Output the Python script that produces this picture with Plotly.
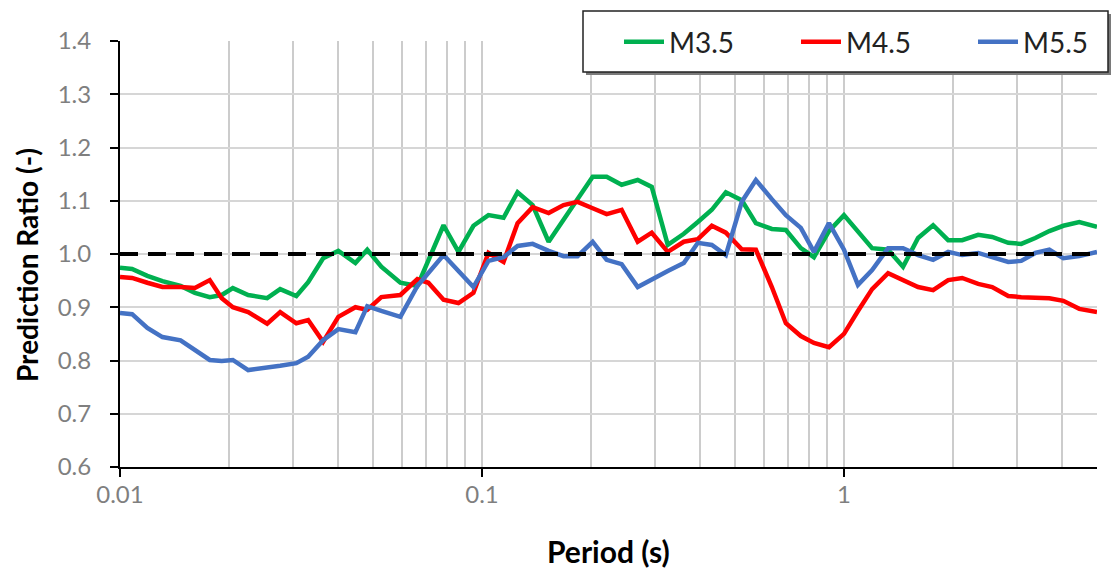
import plotly.graph_objects as go

periods = [0.0100, 0.0108, 0.0119, 0.0131, 0.0147, 0.0161, 0.0177, 0.0191, 0.0205, 0.0226,
           0.0255, 0.0277, 0.0307, 0.0331, 0.0364, 0.0401, 0.0447, 0.0482, 0.0527, 0.0595,
           0.0663, 0.0711, 0.0783, 0.0861, 0.0947, 0.1042, 0.1147, 0.1254, 0.138, 0.1528,
           0.168, 0.1837, 0.2022, 0.221, 0.2431, 0.2693, 0.2944, 0.326, 0.361, 0.3947,
           0.4314, 0.4717, 0.522, 0.571, 0.632, 0.691, 0.760, 0.826, 0.909, 1.0,
           1.093, 1.196, 1.324, 1.456, 1.602, 1.763, 1.940, 2.121, 2.348, 2.567,
           2.843, 3.088, 3.377, 3.692, 4.036, 4.467, 5.0]

m35 = [0.974, 0.972, 0.959, 0.949, 0.940, 0.927, 0.919, 0.923, 0.936, 0.923,
       0.917, 0.934, 0.921, 0.947, 0.992, 1.006, 0.983, 1.008, 0.976, 0.946,
       0.940, 0.989, 1.054, 1.004, 1.053, 1.073, 1.068, 1.116, 1.092, 1.023,
       1.064, 1.103, 1.145, 1.145, 1.130, 1.139, 1.126, 1.017, 1.038, 1.060,
       1.083, 1.116, 1.101, 1.058, 1.047, 1.045, 1.011, 0.994, 1.043, 1.073,
       1.043, 1.011, 1.008, 0.976, 1.030, 1.054, 1.026, 1.026, 1.036, 1.032,
       1.021, 1.019, 1.030, 1.043, 1.053, 1.060, 1.051]

m45 = [0.957, 0.955, 0.946, 0.938, 0.938, 0.936, 0.951, 0.917, 0.900, 0.891,
       0.869, 0.891, 0.870, 0.876, 0.835, 0.882, 0.900, 0.895, 0.919, 0.923,
       0.953, 0.946, 0.914, 0.908, 0.927, 1.002, 0.985, 1.058, 1.088, 1.077,
       1.092, 1.098, 1.086, 1.075, 1.083, 1.023, 1.040, 1.004, 1.023, 1.028,
       1.053, 1.040, 1.009, 1.008, 0.938, 0.870, 0.846, 0.833, 0.825, 0.850,
       0.893, 0.934, 0.964, 0.951, 0.938, 0.932, 0.951, 0.955, 0.944, 0.938,
       0.921, 0.919, 0.919, 0.917, 0.912, 0.897, 0.891]

m55 = [0.889, 0.887, 0.861, 0.844, 0.838, 0.820, 0.801, 0.799, 0.801, 0.782,
       0.786, 0.790, 0.795, 0.807, 0.838, 0.859, 0.853, 0.902, 0.893, 0.882,
       0.940, 0.964, 0.998, 0.968, 0.938, 0.987, 0.994, 1.015, 1.019, 1.006,
       0.996, 0.996, 1.023, 0.989, 0.981, 0.938, 0.953, 0.968, 0.983, 1.021,
       1.017, 0.998, 1.098, 1.139, 1.103, 1.073, 1.049, 1.004, 1.058, 1.008,
       0.942, 0.970, 1.011, 1.011, 0.998, 0.989, 1.004, 0.998, 1.002, 0.994,
       0.985, 0.987, 1.002, 1.008, 0.992, 0.996, 1.004]

ref_x = [0.01, 5.0]
ref_y = [1.0, 1.0]

series_names = ["M3.5", "M4.5", "M5.5"]
series_vals = [m35, m45, m55]
series_colors = ["#00B050", "#FF0000", "#4472C4"]

x_major = [0.01, 0.1, 1]
x_major_text = ["0.01", "0.1", "1"]
x_minor = [0.02, 0.03, 0.04, 0.05, 0.06, 0.07, 0.08, 0.09,
           0.2, 0.3, 0.4, 0.5, 0.6, 0.7, 0.8, 0.9, 2, 3, 4, 5]

FONT = "Lato, Carlito, Calibri, sans-serif"

fig = go.Figure()
for name, vals, col in zip(series_names, series_vals, series_colors):
    fig.add_trace(go.Scatter(x=periods, y=vals, mode="lines", name=name,
                             line=dict(color=col, width=4.5)))
fig.add_trace(go.Scatter(x=ref_x, y=ref_y, mode="lines", showlegend=False,
                         line=dict(color="black", width=4, dash="18px,10px")))

W, H = 1113, 572
L, R, T, B = 120, 1097, 41, 467


def px(x):
    return (x - L) / (R - L)


def py(y):
    return (B - y) / (B - T)


# legend box with shadow
fig.add_shape(type="rect", xref="paper", yref="paper", layer="above",
              x0=px(586), x1=px(1111), y0=py(75), y1=py(14),
              fillcolor="#7a7a7a", line=dict(width=0))
fig.add_shape(type="rect", xref="paper", yref="paper", layer="above",
              x0=px(583), x1=px(1108), y0=py(72), y1=py(11),
              fillcolor="white", line=dict(color="#222222", width=1.5))

fig.update_layout(
    width=W, height=H,
    margin=dict(l=L, r=W - R, t=T, b=H - B, autoexpand=False),
    paper_bgcolor="white", plot_bgcolor="white",
    font=dict(family=FONT, color="#7f7f7f"),
    showlegend=True,
    legend=dict(orientation="h", x=px(619), xanchor="left", y=py(42), yanchor="middle",
                bgcolor="rgba(0,0,0,0)", borderwidth=0,
                font=dict(family=FONT, size=28, color="#222222"),
                entrywidth=122, itemwidth=40),
    xaxis=dict(type="log", range=[-2, 0.69897],
               tickvals=x_major, ticktext=x_major_text,
               ticks="outside", ticklen=8, tickwidth=2, tickcolor="black",
               showline=True, linecolor="black", linewidth=2,
               showgrid=True, gridcolor="#cccccc", gridwidth=1.5,
               tickfont=dict(family=FONT, size=24, color="#7f7f7f"),
               ticklabelstandoff=-3,
               minor=dict(tickvals=x_minor, showgrid=True, gridcolor="#cccccc",
                          gridwidth=1.5, ticks=""),
               zeroline=False),
    yaxis=dict(range=[0.6, 1.4], tickvals=[0.6, 0.7, 0.8, 0.9, 1.0, 1.1, 1.2, 1.3, 1.4],
               tickformat=".1f",
               ticks="outside", ticklen=8, tickwidth=2, tickcolor="black",
               showline=True, linecolor="black", linewidth=2,
               showgrid=True, gridcolor="#d6d6d6", gridwidth=1.5,
               tickfont=dict(family=FONT, size=24, color="#7f7f7f"),
               ticklabelstandoff=14,
               zeroline=False),
    annotations=[
        dict(text="<b>Period (s)</b>", xref="paper", yref="paper",
             x=px(608), y=py(551), xanchor="center", yanchor="middle", showarrow=False,
             font=dict(family=FONT, size=30, color="black")),
        dict(text="<b>Prediction Ratio (-)</b>", xref="paper", yref="paper",
             x=px(27), y=py(265), xanchor="center", yanchor="middle", showarrow=False,
             textangle=-90, font=dict(family=FONT, size=28, color="black")),
    ],
)

fig.write_html("out.html")
